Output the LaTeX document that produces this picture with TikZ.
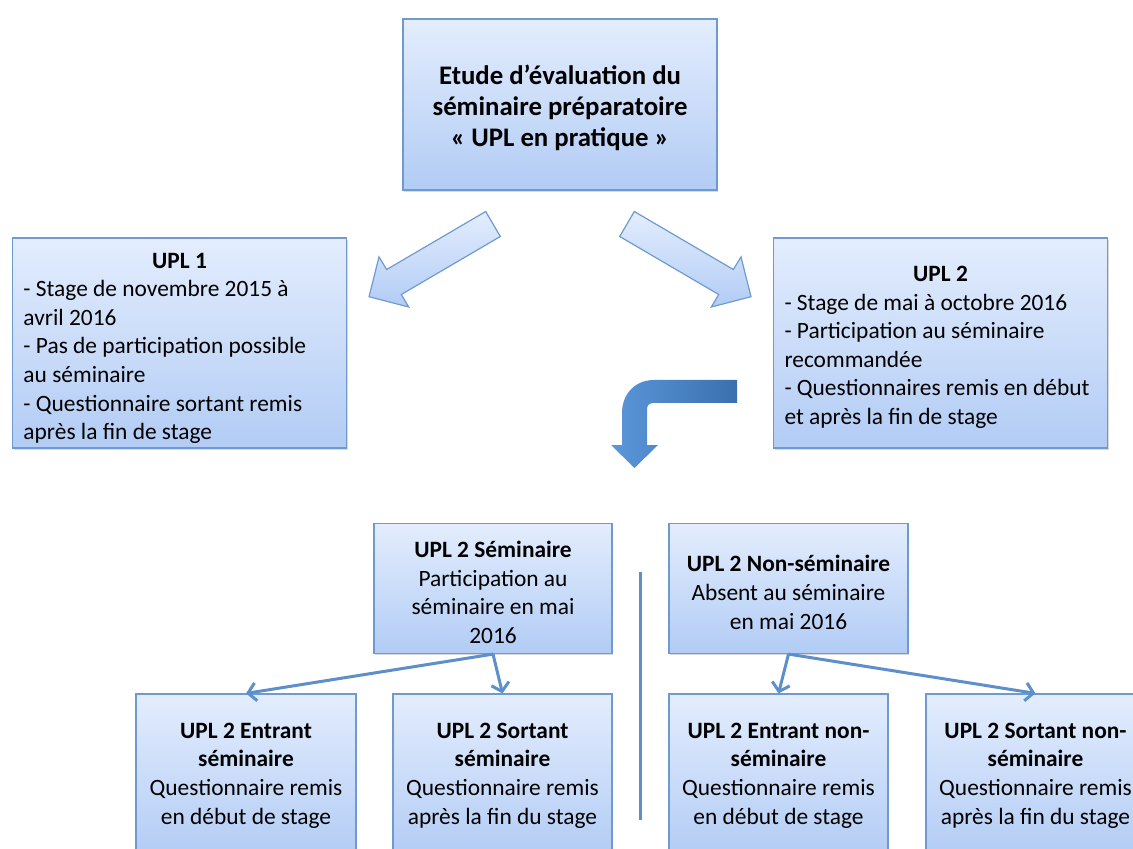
\documentclass[tikz,border=0pt]{standalone}
\usepackage{fontspec}
\setmainfont{Carlito}
\usetikzlibrary{arrows.meta,shadows}
\definecolor{panelline}{HTML}{6F9AD0}
\definecolor{paneltop}{HTML}{E3EDFD}
\definecolor{panelbot}{HTML}{B2CCF5}
\definecolor{linkline}{HTML}{5D8FCB}
\definecolor{bentleft}{HTML}{5B97DA}
\definecolor{bentright}{HTML}{3A70AE}
\tikzset{
  panel/.style={draw=panelline, line width=0.6pt, top color=paneltop, bottom color=panelbot,
    drop shadow={shadow xshift=0.6pt, shadow yshift=-0.9pt, opacity=0.3},
    inner sep=0pt, align=center, font=\fontsize{11.7}{14.3}\selectfont},
  fatarrow/.style={draw=panelline, line width=0.6pt, top color=paneltop, bottom color=panelbot},
  link/.style={draw=linkline, line width=1.5pt, -{Straight Barb[length=4pt,width=9pt]}},
}

\begin{document}
\begin{tikzpicture}[x=0.5pt,y=-0.5pt]
\useasboundingbox (0,0) rectangle (1133,849);
\clip (0,0) rectangle (1133,849);

\node [panel, minimum width=157pt, minimum height=85.5pt,
  font=\bfseries\fontsize{13.4}{15.5}\selectfont] (etude) at (560,104.5)
  {\rule{0pt}{13pt}Etude d’évaluation du\\séminaire préparatoire\\« UPL en pratique »};

\node [panel, minimum width=167pt, minimum height=105pt, align=left] (upl1) at (179.5,343)
  {\makebox[156pt]{\rule{0pt}{13pt}\textbf{UPL 1}}\\- Stage de novembre 2015 à\\avril 2016\\- Pas de participation possible\\au séminaire\\- Questionnaire sortant remis\\après la fin de stage};
\node [panel, minimum width=167pt, minimum height=105pt, align=left] (upl2) at (940.5,343)
  {\makebox[156pt]{\rule{0pt}{12pt}\textbf{UPL 2}}\\- Stage de mai à octobre 2016\\- Participation au séminaire\\recommandée\\- Questionnaires remis en début\\et après la fin de stage};

\draw [fatarrow] (485.7,211.5) -- (386.7,269.5) -- (379,257) -- (369,296.7) -- (408.7,307) -- (401.3,294.5) -- (500.3,236.5) -- cycle;
\draw [fatarrow] (634.3,211.5) -- (733.3,269.5) -- (741,257) -- (751,296.7) -- (711.3,307) -- (718.7,294.5) -- (619.7,236.5) -- cycle;

\shade [left color=bentleft, right color=bentright] (737,380) -- (654,380)
  .. controls (635,380) and (622,394) .. (622,413) -- (622,445) -- (611,445) -- (634.5,468)
  -- (658,445) -- (647,445) -- (647,409) .. controls (647,405.5) and (649.5,403) .. (653,403)
  -- (737,403) -- cycle;

\node [panel, minimum width=119pt, minimum height=65pt] (sem) at (493,588.5)
  {\rule{0pt}{12pt}\textbf{UPL 2 Séminaire}\\Participation au\\séminaire en mai\\2016};
\node [panel, minimum width=119.5pt, minimum height=65pt] (nonsem) at (788.5,588.5)
  {\rule{0pt}{12pt}\textbf{UPL 2 Non-séminaire}\\Absent au séminaire\\en mai 2016};

\coordinate (septop) at (640,572);
\coordinate (sepbot) at (640,820);
\draw [linkline, line width=1.5pt] (septop) -- (sepbot);

\node [panel, minimum width=110pt, minimum height=81.5pt] (e1) at (246,775.5)
  {\textbf{UPL 2 Entrant}\\\textbf{séminaire}\\Questionnaire remis\\en début de stage};
\node [panel, minimum width=109.5pt, minimum height=81.5pt] (s1) at (502.5,775.5)
  {\textbf{UPL 2 Sortant}\\\textbf{séminaire}\\Questionnaire remis\\après la fin du stage};
\node [panel, minimum width=109.5pt, minimum height=81.5pt] (e2) at (778.5,775.5)
  {\textbf{UPL 2 Entrant non-}\\\textbf{séminaire}\\Questionnaire remis\\en début de stage};
\node [panel, minimum width=109.5pt, minimum height=81.5pt] (s2) at (1035.5,775.5)
  {\textbf{UPL 2 Sortant non-}\\\textbf{séminaire}\\Questionnaire remis\\après la fin du stage};

\draw [link] (sem.south) -- (e1.north);
\draw [link] (sem.south) -- (s1.north);
\draw [link] (nonsem.south) -- (e2.north);
\draw [link] (nonsem.south) -- (s2.north);

\end{tikzpicture}
\end{document}
